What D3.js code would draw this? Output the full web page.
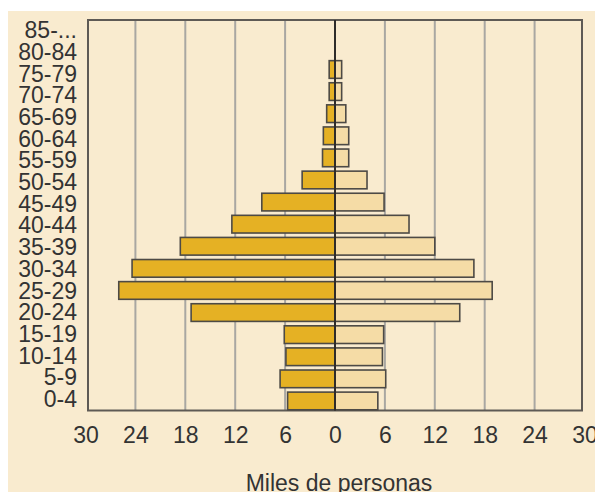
<!DOCTYPE html>
<html>
<head>
<meta charset="utf-8">
<script src="https://cdn.jsdelivr.net/npm/d3@7"></script>
<style>
  html, body { margin: 0; padding: 0; background: #ffffff; }
  svg { display: block; }
  text { font-family: "Liberation Sans", Arial, sans-serif; fill: #333333; }
</style>
</head>
<body>
<svg id="chart" width="595" height="492"></svg>
<script>
const categories = ["0-4","5-9","10-14","15-19","20-24","25-29","30-34","35-39","40-44","45-49","50-54","55-59","60-64","65-69","70-74","75-79","80-84","85-..."];
const leftValues  = [5.7, 6.6, 5.9, 6.1, 17.3, 26.0, 24.4, 18.6, 12.4, 8.8, 3.95, 1.5, 1.4, 1.0, 0.7, 0.7, 0, 0];
const rightValues = [5.15, 6.1, 5.7, 5.85, 15.0, 18.9, 16.7, 12.0, 8.9, 5.9, 3.85, 1.65, 1.65, 1.3, 0.8, 0.8, 0, 0];
const tickValues = [-30, -24, -18, -12, -6, 0, 6, 12, 18, 24, 30];
const axisTitle = "Miles de personas";

const svg = d3.select("#chart");
const W = 595, H = 492;

// background panel
svg.append("rect").attr("x", 8).attr("y", 11).attr("width", W - 8).attr("height", H - 11).attr("fill", "#F9EBCF");

const frame = { left: 88, right: 582, top: 20, bottom: 410.5 };

const x = d3.scaleLinear().domain([-30, 30]).range([85.5, 584.5]);
const yBar = d3.scaleBand().domain(categories.slice().reverse()).range([14.25, 412]).paddingInner(0.2).paddingOuter(0.1);
const yLab = d3.scaleBand().domain(categories.slice().reverse()).range([frame.top, frame.bottom]);

// grid lines
svg.append("g").selectAll("line").data(tickValues.filter(t => Math.abs(t) !== 30 && t !== 0)).join("line")
  .attr("x1", d => x(d)).attr("x2", d => x(d))
  .attr("y1", frame.top).attr("y2", frame.bottom)
  .attr("stroke", "#a9a7a2").attr("stroke-width", 2);

// frame
svg.append("rect").attr("x", frame.left).attr("y", frame.top)
  .attr("width", frame.right - frame.left).attr("height", frame.bottom - frame.top)
  .attr("fill", "none").attr("stroke", "#5e5a55").attr("stroke-width", 2);

const data = categories.map((c, i) => ({ c, l: leftValues[i], r: rightValues[i] }));

// left bars
svg.append("g").selectAll("rect").data(data.filter(d => d.l > 0)).join("rect")
  .attr("x", d => x(-d.l)).attr("y", d => yBar(d.c))
  .attr("width", d => x(0) - x(-d.l)).attr("height", yBar.bandwidth())
  .attr("fill", "#E5B124").attr("stroke", "#4d4a45").attr("stroke-width", 1.6);

// right bars
svg.append("g").selectAll("rect").data(data.filter(d => d.r > 0)).join("rect")
  .attr("x", x(0)).attr("y", d => yBar(d.c))
  .attr("width", d => x(d.r) - x(0)).attr("height", yBar.bandwidth())
  .attr("fill", "#F5DCA6").attr("stroke", "#4d4a45").attr("stroke-width", 1.6);

// center line
svg.append("line").attr("x1", x(0)).attr("x2", x(0)).attr("y1", frame.top).attr("y2", frame.bottom)
  .attr("stroke", "#2e2c2a").attr("stroke-width", 2);

// y labels
const yAxis = d3.axisLeft(yLab).tickSize(0).tickPadding(0);
const gy = svg.append("g").attr("transform", "translate(77,0)").call(yAxis);
gy.select(".domain").remove();
gy.selectAll("text").attr("font-size", "23px").attr("fill", "#333");

// x labels
const xAxis = d3.axisBottom(x).tickValues(tickValues).tickFormat(d => Math.abs(d)).tickSize(0).tickPadding(0);
const gx = svg.append("g").attr("transform", "translate(0,427)").call(xAxis);
gx.select(".domain").remove();
gx.selectAll("text").attr("font-size", "23px").attr("fill", "#333").attr("dy", "0.71em");

// axis title
svg.append("text").attr("x", x(0) + 4).attr("y", 491).attr("text-anchor", "middle")
  .attr("font-size", "23px").text(axisTitle);
</script>
</body>
</html>
